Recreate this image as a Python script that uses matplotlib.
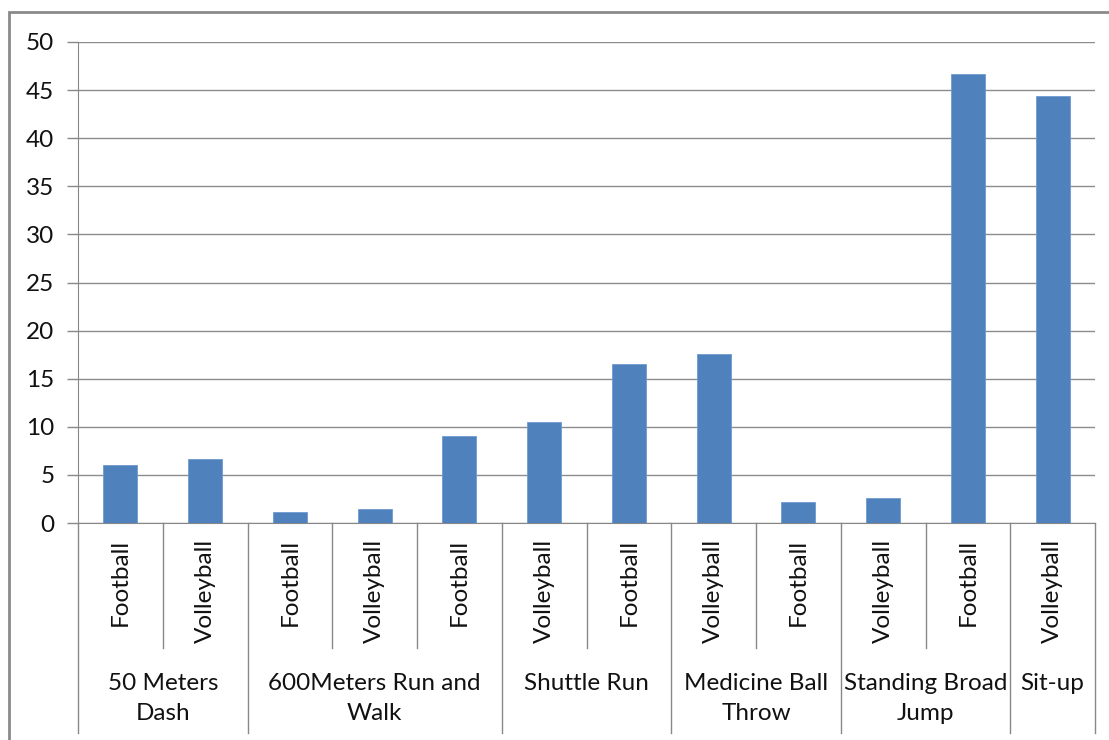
import matplotlib.pyplot as plt
from matplotlib.patches import Rectangle
import numpy as np

plt.rcParams['font.family'] = ['Lato', 'DejaVu Sans']

# Two-level category axis: test groups and the sport of each bar
groups = ["50 Meters\nDash", "600Meters Run and\nWalk", "Shuttle Run",
          "Medicine Ball\nThrow", "Standing Broad\nJump", "Sit-up"]
group_sizes = [2, 3, 2, 2, 2, 1]
sports = ["Football", "Volleyball", "Football", "Volleyball", "Football",
          "Volleyball", "Football", "Volleyball", "Football",
          "Volleyball", "Football", "Volleyball"]
values = [6.0, 6.7, 1.1, 1.5, 9.0, 10.5, 16.5, 17.6, 2.2, 2.6, 46.7, 44.4]
yticks = [0, 5, 10, 15, 20, 25, 30, 35, 40, 45, 50]

W, H = 1109, 740
FS = 17.5
fig = plt.figure(figsize=(W / 100, H / 100), dpi=100)
ax = fig.add_axes([78 / W, 1 - 523 / H, (1095 - 78) / W, (523 - 42) / H])

x = np.arange(len(values))
ax.bar(x, values, width=0.4, color='#4F81BD', edgecolor='#6E9AD0',
       linewidth=0.6, zorder=3)

ax.set_xlim(-0.5, len(values) - 0.5)
ax.set_ylim(0, 50)
ax.set_yticks(yticks)
ax.tick_params(axis='y', labelsize=FS, length=8, width=1, color='#888888',
               pad=9, labelcolor='#111111')
ax.set_xticks([])
ax.yaxis.grid(True, color='#8c8c8c', linewidth=1)
for side in ['top', 'right']:
    ax.spines[side].set_visible(False)
ax.spines['left'].set_color('#888888')
ax.spines['bottom'].set_color('#888888')

# category axis lines below the plot, in data-x / axes-y coordinates
trans = ax.get_xaxis_transform()
ax_h = 523 - 42
inner_bottom = -(648 - 523) / ax_h
outer_bottom = -(733 - 523) / ax_h
line_kw = dict(color='#888888', linewidth=1, clip_on=False, transform=trans)

for i, s in enumerate(sports):
    ax.text(i, -16 / ax_h, s, rotation=90, ha='center', va='top',
            fontsize=FS, color='#111111', transform=trans)

edges = np.concatenate([[0], np.cumsum(group_sizes)]) - 0.5
for e in edges:
    ax.plot([e, e], [0, outer_bottom], **line_kw)
for i in range(1, len(values)):
    if i - 0.5 not in edges:
        ax.plot([i - 0.5, i - 0.5], [0, inner_bottom], **line_kw)

for g, lo, hi in zip(groups, edges[:-1], edges[1:]):
    ax.text((lo + hi) / 2, -(673 - 523) / ax_h, g, ha='center', va='top',
            fontsize=FS, color='#111111', linespacing=1.55, transform=trans)

# chart frame
fig.patches.append(Rectangle((9 / W, -0.1), 1.2, 1 - 12 / H + 0.1,
                             transform=fig.transFigure, fill=False,
                             edgecolor='#8a8a8a', linewidth=2))

fig.savefig('out.png', dpi=100, facecolor='white')
